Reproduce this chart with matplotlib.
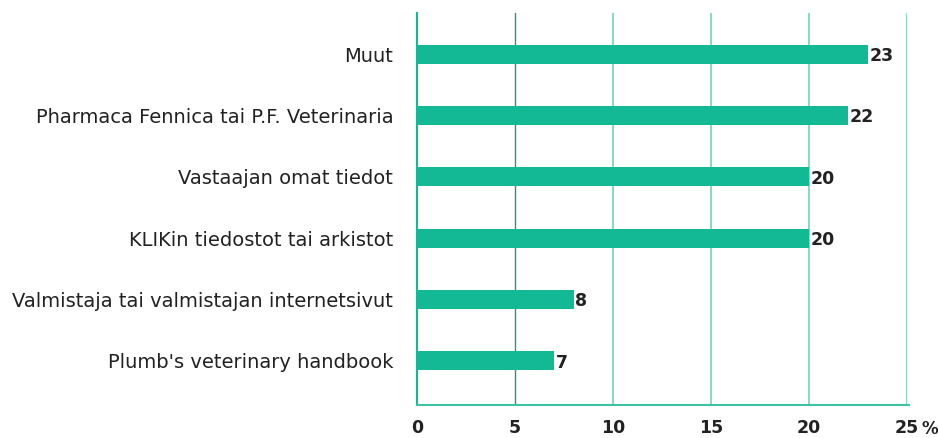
import matplotlib
matplotlib.use("Agg")
from matplotlib import pyplot as plt

categories = ["Muut", "Pharmaca Fennica tai P.F. Veterinaria", "Vastaajan omat tiedot",
              "KLIKin tiedostot tai arkistot", "Valmistaja tai valmistajan internetsivut",
              "Plumb's veterinary handbook"]
values = [23, 22, 20, 20, 8, 7]
ticks = [0, 5, 10, 15, 20, 25]

plt.rcParams['font.family'] = ['DejaVu Sans']

bar_color = '#13b894'
grid_light = '#86d9c4'
grid_dark = '#16a083'
txt = '#222222'

fig = plt.figure(figsize=(9.39, 4.38), dpi=100)
ax = fig.add_axes([0.444, 0.075, 0.522, 0.895])

pos = list(range(len(categories)))
ax.barh(pos, values, height=0.31, color=bar_color, zorder=3)
for p, v in zip(pos, values):
    ax.text(v + 0.08, p + 0.03, str(v), va='center', ha='left', fontsize=12.5,
            fontweight='bold', color=txt, zorder=4)

ax.set_xlim(0, 25)
ax.set_ylim(5.72, -0.67)
ax.set_yticks(pos)
ax.set_yticklabels(categories, fontsize=14, color=txt)
ax.set_xticks(ticks)
ax.set_xticklabels([str(t) for t in ticks], fontsize=12.5, fontweight='bold', color=txt)
ax.annotate("%", xy=(25, 0), xycoords=ax.get_xaxis_transform(), xytext=(14, -24),
            textcoords='offset pixels', ha='left', va='center',
            fontsize=12, fontweight='bold', color=txt)
ax.tick_params(axis='both', length=0)
ax.tick_params(axis='y', pad=17)
ax.tick_params(axis='x', pad=10)

for t in ticks[1:]:
    if t == 5:
        ax.axvline(t, color=grid_dark, linewidth=1.0, zorder=1)
    else:
        ax.axvline(t, color=grid_light, linewidth=1.4, zorder=1)

for s in ['top', 'right']:
    ax.spines[s].set_visible(False)
ax.spines['left'].set_color(bar_color)
ax.spines['left'].set_linewidth(1.5)
ax.spines['bottom'].set_color('#3cc4a2')
ax.spines['bottom'].set_linewidth(1.5)
ax.spines['bottom'].set_bounds(0, 25.1)

fig.savefig("out.png", dpi=100)
